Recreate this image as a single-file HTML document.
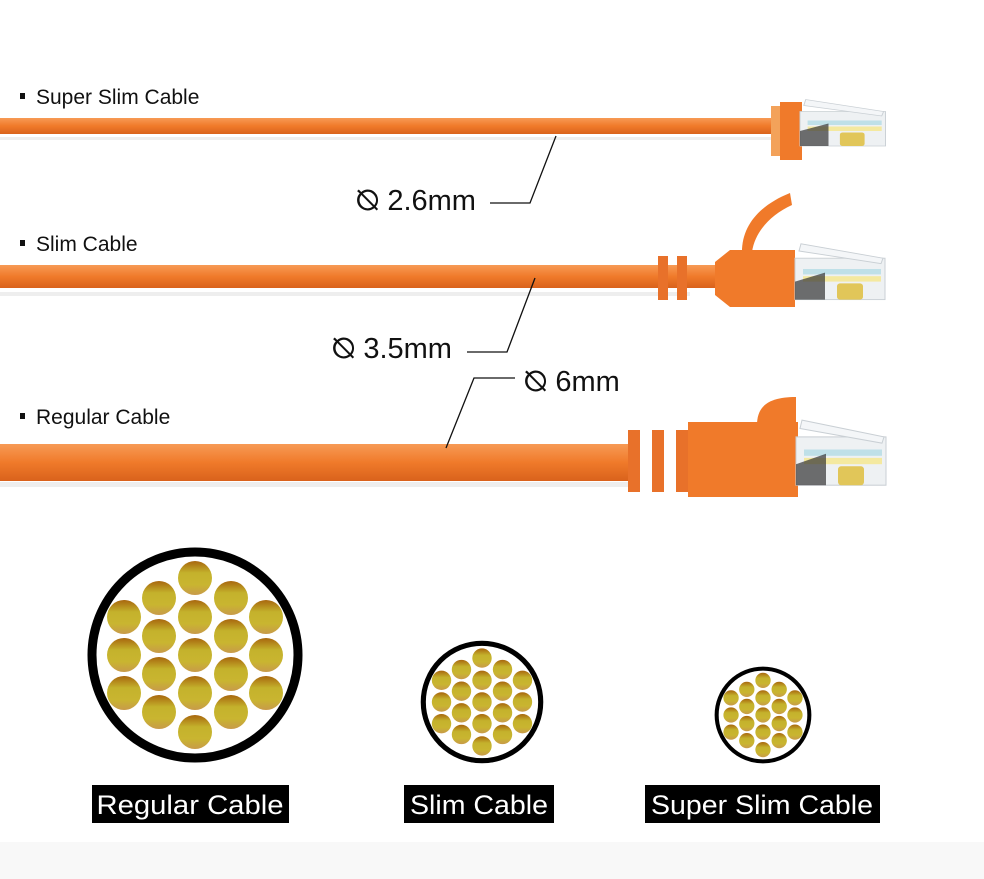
<!DOCTYPE html>
<html><head><meta charset="utf-8"><style>
html,body{margin:0;padding:0;background:#fff}
svg{display:block}
text{font-family:"Liberation Sans","DejaVu Sans",sans-serif}
</style></head><body>
<svg width="984" height="879" viewBox="0 0 984 879" xmlns="http://www.w3.org/2000/svg">
<defs>
<linearGradient id="cab" x1="0" y1="0" x2="0" y2="1">
<stop offset="0" stop-color="#f79a55"/><stop offset="0.5" stop-color="#f07a2a"/><stop offset="1" stop-color="#d9621c"/>
</linearGradient>
<linearGradient id="wire" x1="0" y1="0" x2="0" y2="1">
<stop offset="0" stop-color="#a8660e"/><stop offset="0.35" stop-color="#c4b22c"/><stop offset="0.7" stop-color="#c9b530"/><stop offset="1" stop-color="#c89a4a"/>
</linearGradient>
<g id="bundle">
<circle r="103" fill="#fff" stroke="#000" stroke-width="9"/>
<g fill="url(#wire)">
<circle cx="0" cy="-77" r="17"/><circle cx="0" cy="-38" r="17"/><circle cx="0" cy="0" r="17"/><circle cx="0" cy="38" r="17"/><circle cx="0" cy="77" r="17"/>
<circle cx="-36" cy="-57" r="17"/><circle cx="-36" cy="-19" r="17"/><circle cx="-36" cy="19" r="17"/><circle cx="-36" cy="57" r="17"/>
<circle cx="36" cy="-57" r="17"/><circle cx="36" cy="-19" r="17"/><circle cx="36" cy="19" r="17"/><circle cx="36" cy="57" r="17"/>
<circle cx="-71" cy="-38" r="17"/><circle cx="-71" cy="0" r="17"/><circle cx="-71" cy="38" r="17"/>
<circle cx="71" cy="-38" r="17"/><circle cx="71" cy="0" r="17"/><circle cx="71" cy="38" r="17"/>
</g>
</g>
<g id="plug">
<rect x="0" y="-22" width="90" height="46" fill="#eef1f3" stroke="#c9cfd4" stroke-width="1"/>
<rect x="8" y="-10" width="78" height="6" fill="#bfe0e8"/>
<rect x="8" y="-2" width="78" height="6" fill="#f4e9a0"/>
<rect x="42" y="6" width="26" height="18" rx="3" fill="#e1c659"/>
<path d="M0,4 L30,-6 L30,24 L0,24Z" fill="#333" opacity="0.7"/>
<path d="M4,-30 L86,-16 L88,-22 L6,-38Z" fill="#f4f6f8" stroke="#c9cfd4"/>
</g>
</defs>
<rect x="0" y="842" width="984" height="37" fill="#f8f8f8"/>

<rect x="20" y="93" width="5" height="6" fill="#111"/>
<text x="36" y="104" font-size="21" fill="#111">Super Slim Cable</text>
<rect x="20" y="240" width="5" height="6" fill="#111"/>
<text x="36" y="251" font-size="21" fill="#111">Slim Cable</text>
<rect x="20" y="413" width="5" height="6" fill="#111"/>
<text x="36" y="424" font-size="21" fill="#111">Regular Cable</text>

<rect x="0" y="137" width="780" height="3" fill="#eee"/>
<rect x="0" y="118" width="785" height="16" fill="url(#cab)"/>
<rect x="771" y="106" width="12" height="50" fill="#f3a25a"/>
<rect x="780" y="102" width="22" height="58" fill="#f07a2a"/>
<g transform="translate(800,128) scale(0.95,0.75)"><use href="#plug"/></g>

<rect x="0" y="292" width="690" height="4" fill="#eee"/>
<rect x="0" y="265" width="720" height="23" fill="url(#cab)"/>
<rect x="658" y="256" width="10" height="44" fill="#e8712a"/>
<rect x="677" y="256" width="10" height="44" fill="#e8712a"/>
<path d="M715,262 L730,250 L795,250 L795,307 L730,307 L715,295Z" fill="#f07a2a"/>
<path d="M742,252 C742,225 760,205 790,193 L792,205 C770,215 755,232 752,252Z" fill="#f07a2a"/>
<g transform="translate(795,278) scale(1,0.9)"><use href="#plug"/></g>

<rect x="0" y="482" width="640" height="5" fill="#eee"/>
<rect x="0" y="444" width="640" height="37" fill="url(#cab)"/>
<rect x="628" y="430" width="12" height="62" fill="#e8712a"/>
<rect x="652" y="430" width="12" height="62" fill="#e8712a"/>
<rect x="676" y="430" width="12" height="62" fill="#e8712a"/>
<rect x="688" y="422" width="110" height="75" fill="#f07a2a"/>
<path d="M757,425 C757,405 770,397 796,397 L796,430Z" fill="#f07a2a"/>
<g transform="translate(796,460) scale(1,1.05)"><use href="#plug"/></g>

<g stroke="#111" stroke-width="1.3" fill="none">
<polyline points="490,203 530,203 556,136"/>
<polyline points="467,352 507,352 535,278"/>
<polyline points="515,378 474,378 446,448"/>
</g>
<g font-size="29" fill="#111">
<text x="356" y="210">⦰ 2.6mm</text>
<text x="332" y="358">⦰ 3.5mm</text>
<text x="524" y="391">⦰ 6mm</text>
</g>

<g transform="translate(195,655)"><use href="#bundle"/></g>
<g transform="translate(482,702) scale(0.57)"><use href="#bundle"/></g>
<g transform="translate(763,715) scale(0.45)"><use href="#bundle"/></g>

<rect x="92" y="785" width="197" height="38" fill="#000"/>
<text x="190" y="814" font-size="27" fill="#fff" text-anchor="middle" textLength="187" lengthAdjust="spacingAndGlyphs">Regular Cable</text>
<rect x="404" y="785" width="150" height="38" fill="#000"/>
<text x="479" y="814" font-size="27" fill="#fff" text-anchor="middle" textLength="138" lengthAdjust="spacingAndGlyphs">Slim Cable</text>
<rect x="645" y="785" width="235" height="38" fill="#000"/>
<text x="762" y="814" font-size="27" fill="#fff" text-anchor="middle" textLength="222" lengthAdjust="spacingAndGlyphs">Super Slim Cable</text>
</svg>
</body></html>
